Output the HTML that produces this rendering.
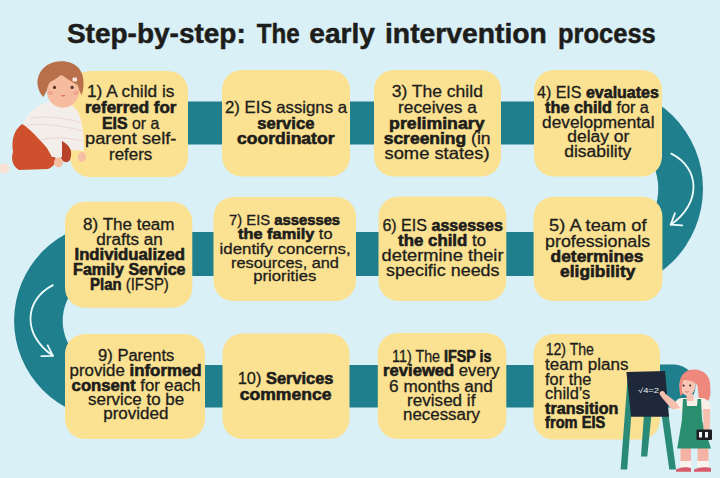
<!DOCTYPE html><html><head><meta charset="utf-8"><title>Step-by-step: The early intervention process</title>
<style>html,body{margin:0;padding:0;background:#d9f0f7}svg{display:block}text{font-family:"Liberation Sans",Arial,sans-serif;fill:#1d1d1b;stroke:#1d1d1b;stroke-width:.3px}.b{font-weight:bold;stroke-width:.6px}</style></head><body>
<svg width="720" height="478" viewBox="0 0 720 478">
<rect width="720" height="478" fill="#d9f0f7"/>
<defs><clipPath id="cr"><rect x="640" y="60" width="80" height="260"/></clipPath><clipPath id="cl"><rect x="0" y="200" width="100" height="240"/></clipPath></defs>
<path clip-path="url(#cr)" fill="#207f8d" fill-rule="evenodd" d="M497,188.7 a103,103 0 1 0 206,0 a103,103 0 1 0 -206,0 Z M541.7,188.7 a58.3,58.3 0 1 0 116.6,0 a58.3,58.3 0 1 0 -116.6,0 Z"/>
<path clip-path="url(#cl)" fill="#207f8d" fill-rule="evenodd" d="M14.1,320.7 a98.4,98.4 0 1 0 196.8,0 a98.4,98.4 0 1 0 -196.8,0 Z M62.7,320.7 a49.8,49.8 0 1 0 99.6,0 a49.8,49.8 0 1 0 -99.6,0 Z"/>
<rect x="150" y="101.5" width="450" height="43" fill="#207f8d"/>
<rect x="100" y="232" width="500" height="44" fill="#207f8d"/>
<rect x="100" y="365" width="500" height="42.5" fill="#207f8d"/>
<path d="M640,364.5 H674 A21.5,21.5 0 0 1 674,407.5 H640 Z" fill="#207f8d"/>
<rect x="70" y="71" width="118" height="106" rx="20" fill="#fbe192"/>
<rect x="222" y="70" width="128" height="106.5" rx="20" fill="#fbe192"/>
<rect x="374" y="70" width="127" height="106.5" rx="20" fill="#fbe192"/>
<rect x="534" y="70" width="128" height="106.5" rx="20" fill="#fbe192"/>
<rect x="65" y="201.8" width="127.3" height="106" rx="20" fill="#fbe192"/>
<rect x="213.5" y="197" width="142.5" height="104" rx="20" fill="#fbe192"/>
<rect x="378.5" y="196.5" width="127.8" height="104.5" rx="20" fill="#fbe192"/>
<rect x="533.6" y="196.7" width="128.8" height="104.3" rx="20" fill="#fbe192"/>
<rect x="65" y="334" width="140" height="105" rx="20" fill="#fbe192"/>
<rect x="222.5" y="333.5" width="127" height="105.5" rx="20" fill="#fbe192"/>
<rect x="377.8" y="333" width="128.5" height="106" rx="20" fill="#fbe192"/>
<rect x="533.6" y="334" width="126.4" height="105.5" rx="20" fill="#fbe192"/>
<g fill="none" stroke="#effdfd" stroke-width="1.8" stroke-linecap="round" stroke-linejoin="round">
<path d="M671.3,153.6 C700,168 702,203 670.7,224.7"/><path d="M674.9,213.2 L670.7,224.7 L682.2,225.4"/>
<path d="M52.9,285.1 C24,300 22,335 52.9,355.8"/><path d="M47.7,345.3 L52.9,355.8 L41.4,356.2"/>
</g>
<text x="66.9" y="43" font-size="28" font-weight="bold" textLength="178.9" lengthAdjust="spacingAndGlyphs" style="stroke-width:.5px">Step-by-step:</text>
<text x="256.7" y="43" font-size="28" font-weight="bold" textLength="42.9" lengthAdjust="spacingAndGlyphs" style="stroke-width:.5px">The</text>
<text x="309.3" y="43" font-size="28" font-weight="bold" textLength="65.7" lengthAdjust="spacingAndGlyphs" style="stroke-width:.5px">early</text>
<text x="385" y="43" font-size="28" font-weight="bold" textLength="161.9" lengthAdjust="spacingAndGlyphs" style="stroke-width:.5px">intervention</text>
<text x="558" y="43" font-size="28" font-weight="bold" textLength="97.8" lengthAdjust="spacingAndGlyphs" style="stroke-width:.5px">process</text>
<text x="87" y="97.1" font-size="16.5" textLength="87.4" lengthAdjust="spacingAndGlyphs" xml:space="preserve">1) A child is</text>
<text x="85" y="113.1" font-size="16.5" textLength="91.4" lengthAdjust="spacingAndGlyphs" xml:space="preserve"><tspan class="b">referred for</tspan></text>
<text x="102" y="128.6" font-size="16.5" textLength="57.4" lengthAdjust="spacingAndGlyphs" xml:space="preserve"><tspan class="b">EIS</tspan> or a</text>
<text x="85" y="144.3" font-size="16.5" textLength="91.4" lengthAdjust="spacingAndGlyphs" xml:space="preserve">parent self-</text>
<text x="109" y="160" font-size="16.5" textLength="43.3" lengthAdjust="spacingAndGlyphs" xml:space="preserve">refers</text>
<text x="225" y="113.1" font-size="16.5" textLength="122" lengthAdjust="spacingAndGlyphs" xml:space="preserve">2) EIS assigns a</text>
<text x="257.2" y="128.6" font-size="16.5" textLength="57.2" lengthAdjust="spacingAndGlyphs" xml:space="preserve"><tspan class="b">service</tspan></text>
<text x="237.1" y="144.3" font-size="16.5" textLength="97.4" lengthAdjust="spacingAndGlyphs" xml:space="preserve"><tspan class="b">coordinator</tspan></text>
<text x="391.7" y="97.1" font-size="16.5" textLength="91.2" lengthAdjust="spacingAndGlyphs" xml:space="preserve">3) The child</text>
<text x="398.1" y="112.7" font-size="16.5" textLength="78.7" lengthAdjust="spacingAndGlyphs" xml:space="preserve">receives a</text>
<text x="389.1" y="128.6" font-size="16.5" textLength="95.4" lengthAdjust="spacingAndGlyphs" xml:space="preserve"><tspan class="b">preliminary</tspan></text>
<text x="383.7" y="144.3" font-size="16.5" textLength="106.8" lengthAdjust="spacingAndGlyphs" xml:space="preserve"><tspan class="b">screening</tspan> (in</text>
<text x="384.5" y="159.3" font-size="16.5" textLength="105" lengthAdjust="spacingAndGlyphs" xml:space="preserve">some states)</text>
<text x="537" y="98.1" font-size="15.8" textLength="121.9" lengthAdjust="spacingAndGlyphs" xml:space="preserve">4) EIS <tspan class="b">evaluates</tspan></text>
<text x="545.1" y="113.1" font-size="15.8" textLength="103.8" lengthAdjust="spacingAndGlyphs" xml:space="preserve"><tspan class="b">the child</tspan> for a</text>
<text x="542.1" y="127.8" font-size="15.8" textLength="112.4" lengthAdjust="spacingAndGlyphs" xml:space="preserve">developmental</text>
<text x="567.2" y="142.3" font-size="15.8" textLength="62.2" lengthAdjust="spacingAndGlyphs" xml:space="preserve">delay or</text>
<text x="564.2" y="157.3" font-size="15.8" textLength="67.2" lengthAdjust="spacingAndGlyphs" xml:space="preserve">disability</text>
<text x="83.1" y="229.7" font-size="16" textLength="91.4" lengthAdjust="spacingAndGlyphs" xml:space="preserve">8) The team</text>
<text x="96.2" y="245.2" font-size="16" textLength="66.6" lengthAdjust="spacingAndGlyphs" xml:space="preserve">drafts an</text>
<text x="74.5" y="259.8" font-size="16" textLength="110.4" lengthAdjust="spacingAndGlyphs" xml:space="preserve"><tspan class="b">Individualized</tspan></text>
<text x="73.1" y="275.3" font-size="16" textLength="112.4" lengthAdjust="spacingAndGlyphs" xml:space="preserve"><tspan class="b">Family Service</tspan></text>
<text x="90.1" y="290" font-size="16" textLength="78.7" lengthAdjust="spacingAndGlyphs" xml:space="preserve"><tspan class="b">Plan</tspan> (IFSP)</text>
<text x="229.1" y="225.1" font-size="15.2" textLength="111" lengthAdjust="spacingAndGlyphs" xml:space="preserve">7) EIS <tspan class="b">assesses</tspan></text>
<text x="238.1" y="239.2" font-size="15.2" textLength="94.4" lengthAdjust="spacingAndGlyphs" xml:space="preserve"><tspan class="b">the family</tspan> to</text>
<text x="219.6" y="253.8" font-size="15.2" textLength="131" lengthAdjust="spacingAndGlyphs" xml:space="preserve">identify concerns,</text>
<text x="231.1" y="268.3" font-size="15.2" textLength="107.8" lengthAdjust="spacingAndGlyphs" xml:space="preserve">resources, and</text>
<text x="253.2" y="281.3" font-size="15.2" textLength="63.2" lengthAdjust="spacingAndGlyphs" xml:space="preserve">priorities</text>
<text x="382.4" y="230.5" font-size="16.3" textLength="120.5" lengthAdjust="spacingAndGlyphs" xml:space="preserve">6) EIS <tspan class="b">assesses</tspan></text>
<text x="398.1" y="245.8" font-size="16.3" textLength="88" lengthAdjust="spacingAndGlyphs" xml:space="preserve"><tspan class="b">the child</tspan> to</text>
<text x="381.6" y="261.3" font-size="16.3" textLength="121.9" lengthAdjust="spacingAndGlyphs" xml:space="preserve">determine their</text>
<text x="386.1" y="276.3" font-size="16.3" textLength="113.4" lengthAdjust="spacingAndGlyphs" xml:space="preserve">specific needs</text>
<text x="549.1" y="231.1" font-size="16.3" textLength="97.4" lengthAdjust="spacingAndGlyphs" xml:space="preserve">5) A team of</text>
<text x="545.1" y="246.6" font-size="16.3" textLength="105" lengthAdjust="spacingAndGlyphs" xml:space="preserve">professionals</text>
<text x="550.5" y="262.3" font-size="16.3" textLength="93" lengthAdjust="spacingAndGlyphs" xml:space="preserve"><tspan class="b">determines</tspan></text>
<text x="560.1" y="276.9" font-size="16.3" textLength="75.3" lengthAdjust="spacingAndGlyphs" xml:space="preserve"><tspan class="b">eligibility</tspan></text>
<text x="98.1" y="361.1" font-size="15.6" textLength="76.3" lengthAdjust="spacingAndGlyphs" xml:space="preserve">9) Parents</text>
<text x="69.6" y="375.6" font-size="15.6" textLength="132" lengthAdjust="spacingAndGlyphs" xml:space="preserve">provide <tspan class="b">informed</tspan></text>
<text x="71.6" y="390.6" font-size="15.6" textLength="129" lengthAdjust="spacingAndGlyphs" xml:space="preserve"><tspan class="b">consent</tspan> for each</text>
<text x="88.1" y="405.3" font-size="15.6" textLength="96" lengthAdjust="spacingAndGlyphs" xml:space="preserve">service to be</text>
<text x="103.2" y="419.3" font-size="15.6" textLength="65.2" lengthAdjust="spacingAndGlyphs" xml:space="preserve">provided</text>
<text x="237.7" y="384.2" font-size="16.5" textLength="95.8" lengthAdjust="spacingAndGlyphs" xml:space="preserve">10) <tspan class="b">Services</tspan></text>
<text x="239.7" y="399.9" font-size="16.5" textLength="91.8" lengthAdjust="spacingAndGlyphs" xml:space="preserve"><tspan class="b">commence</tspan></text>
<text x="392.1" y="362.1" font-size="15.6" textLength="99.4" lengthAdjust="spacingAndGlyphs" xml:space="preserve">11) The <tspan class="b">IFSP is</tspan></text>
<text x="383.1" y="376.2" font-size="15.6" textLength="116.4" lengthAdjust="spacingAndGlyphs" xml:space="preserve"><tspan class="b">reviewed</tspan> every</text>
<text x="389.1" y="391.8" font-size="15.6" textLength="103.8" lengthAdjust="spacingAndGlyphs" xml:space="preserve">6 months and</text>
<text x="407.1" y="406.3" font-size="15.6" textLength="68.3" lengthAdjust="spacingAndGlyphs" xml:space="preserve">revised if</text>
<text x="403.1" y="420.3" font-size="15.6" textLength="76.9" lengthAdjust="spacingAndGlyphs" xml:space="preserve">necessary</text>
<text x="545.7" y="355.1" font-size="15.6" textLength="48.2" lengthAdjust="spacingAndGlyphs" xml:space="preserve">12) The</text>
<text x="545.1" y="370.1" font-size="15.6" textLength="83.3" lengthAdjust="spacingAndGlyphs" xml:space="preserve">team plans</text>
<text x="545.1" y="384.6" font-size="15.6" textLength="46.2" lengthAdjust="spacingAndGlyphs" xml:space="preserve">for the</text>
<text x="545.1" y="399.3" font-size="15.6" textLength="45.2" lengthAdjust="spacingAndGlyphs" xml:space="preserve">child’s</text>
<text x="545.1" y="413.9" font-size="15.6" textLength="73.3" lengthAdjust="spacingAndGlyphs" xml:space="preserve"><tspan class="b">transition</tspan></text>
<text x="545.1" y="428" font-size="15.6" textLength="60.2" lengthAdjust="spacingAndGlyphs" xml:space="preserve"><tspan class="b">from EIS</tspan></text>
<!-- baby -->
<g>
  <!-- foot -->
  <ellipse cx="4" cy="168.5" rx="5.5" ry="5" fill="#f7e0d6"/>
  <!-- far leg (darker) -->
  <path d="M62,140 C70,142 73,152 70,160 C67,164 62,162 61,158 Z" fill="#b9432a"/>
  <!-- pants -->
  <path d="M22,124 C14,130 11,140 13,152 C11,158 12,166 19,170 L48,169 C54,167 57,161 55,157 C52,152 49,148 46,145 L31,129 Z" fill="#cf502c"/>
  <!-- sweater -->
  <path d="M48,102 C36,106 26,114 23,124 L31,131 C38,138 44,144 47,148 L52,157 L62,157 L62,141 C66,143 69,146 71,150 L84,151 C84,138 83,126 80,117 C78,110 74,106 70,104 Z" fill="#f4eeea"/>
  <path d="M30,118 C45,116 65,118 80,122 M27,125 C42,123 64,126 82,131 M40,140 C55,136 70,138 83,141" stroke="#ecd9d6" stroke-width="1.2" fill="none"/>
  <!-- hands -->
  <ellipse cx="58.5" cy="162.5" rx="4.5" ry="5" fill="#f5bfa4"/>
  <ellipse cx="82" cy="157" rx="4" ry="5" fill="#f5bfa4"/>
  <!-- hair back -->
  <path d="M37.5,84 C37,72 46,61.5 61,61.3 C75,61 84,70 83.5,83 C83.5,88 83,92 81.5,95 L76,84 L50,84 L43.5,97 C40,94 38,89 37.5,84 Z" fill="#b8704a"/>
  <!-- face -->
  <ellipse cx="63" cy="91.5" rx="16" ry="16.3" fill="#f5bc9e"/>
  <!-- fringe -->
  <path d="M45,88 C46,78 52,73 61,74 C58,78 54,80 50,82 Z M61,74 C68,72 76,76 80,86 C76,84 68,80 61,74 Z" fill="#b8704a"/>
  <path d="M40,80 C42,68 52,62 62,62 C73,62 81,69 82,80 C76,72 68,70 61,73.5 C52,70 45,74 40,80 Z" fill="#b8704a"/>
  <circle cx="54.5" cy="87.4" r="1.6" fill="#5a3325"/><circle cx="72.1" cy="87.4" r="1.6" fill="#5a3325"/>
  <ellipse cx="50.5" cy="93" rx="3" ry="2" fill="#f2a58f"/><ellipse cx="76" cy="93" rx="3" ry="2" fill="#f2a58f"/>
  <path d="M60.8,95.2 Q63.3,98 65.8,95.2 Z" fill="#d9604a"/>
  <rect x="72.5" y="77.5" width="4.5" height="4" rx="1.2" fill="#fbe9e4"/>
</g>
<!-- easel + girl -->
<g>
  <polygon points="627.5,380 634,380 627.2,469.5 620.6,469.5" fill="#2a8a78"/>
  <polygon points="644,414 651.5,414 647.3,456.5 641,456.5" fill="#2a8a78"/>
  <polygon points="661.5,414 668.5,414 676,469.5 669.3,469.5" fill="#2a8a78"/>
  <polygon points="626.4,372 665,371 669,416.8 631,416.8" fill="#1e2838"/>
  <text x="638" y="392.5" font-size="7" fill="#e8f0f0" stroke="none" style="fill:#e8f0f0;stroke:none" textLength="21" lengthAdjust="spacingAndGlyphs">√4=2</text>
  <!-- hair -->
  <path d="M680,388 C678,377 684,369.4 694,369.4 C704,369.4 710.5,376 710.2,386 C710.5,392 711,397 708,401 L699,401 L697,380 L684,378 Z" fill="#ee887d"/>
  <!-- legs -->
  <rect x="680.5" y="447" width="10.5" height="15" fill="#f4b3a5"/><rect x="697.5" y="447" width="11" height="15" fill="#f4b3a5"/>
  <rect x="680" y="461" width="11.5" height="6" fill="#fbf3ee"/><rect x="697" y="461" width="12" height="6" fill="#fbf3ee"/>
  <path d="M676,471.8 L676,469.5 Q683,466 691,468 L691,471.8 Z M694,471.8 L694,469.5 Q702,466 711,468 L711,471.8 Z" fill="#d95a6a"/>
  <!-- shirt -->
  <path d="M682,398 L701,398 C707,398 710.5,402 711,410 L702,411 L702,420 L682,420 L682,411 L673.5,409 C674,402 677,398 682,398 Z" fill="#f8f0e8"/>
  <!-- neck + face -->
  <rect x="686.5" y="394" width="7" height="7" fill="#f7bfae"/>
  <ellipse cx="687.5" cy="385.5" rx="8" ry="10" fill="#f9c5b6"/>
  <path d="M680,381 C683,375 690,373 697,377 L698,386 C695,382 690,380 684,380 Z" fill="#ee887d"/>
  <path d="M681.5,378 C679,383 679,390 680.5,396 L682.5,394 C681.5,389 682,383 683.5,379 Z" fill="#ee887d"/>
  <circle cx="683.6" cy="385.5" r="1.1" fill="#4a2b2b"/><circle cx="690.2" cy="385.5" r="1.1" fill="#4a2b2b"/>
  <path d="M685,391.5 Q687,393 689,391.5" stroke="#d9604a" stroke-width=".8" fill="none"/>
  <!-- dress -->
  <path d="M683,399 L686.5,399 L687,406 L697,406 L697.5,399 L701,399 L702.2,421 L711,448.6 L677.2,448.6 L681.8,421 Z" fill="#2a8f6f"/>
  <!-- right arm + book -->
  <path d="M703,409 L710,409 L709.8,431 L703.5,431 Z" fill="#f7bfae"/>
  <rect x="696.5" y="429.4" width="15.5" height="10.6" rx="1" fill="#1d1d22"/>
  <rect x="699" y="432" width="9" height="5.5" fill="#f3f3f3"/><rect x="702" y="431" width="3" height="8" fill="#1d1d22"/>
  <!-- left arm -->
  <path d="M676,402 L680,408 L672,409.5 L661,396.5 L664.5,393 Z" fill="#f7bfae"/>
  <circle cx="662.3" cy="393.5" r="2.6" fill="#f7bfae"/>
</g>

</svg></body></html>
